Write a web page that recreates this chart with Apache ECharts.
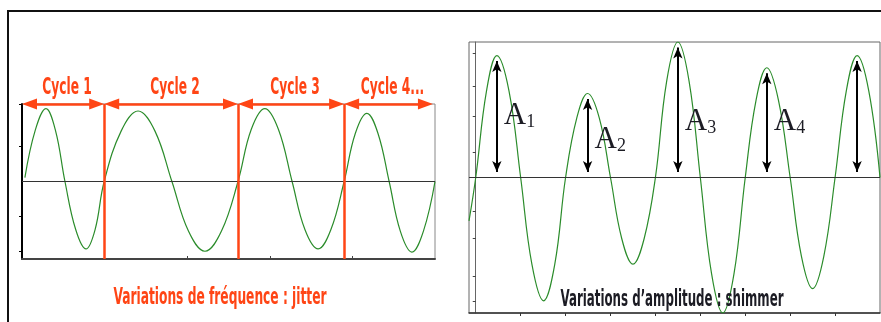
<!DOCTYPE html>
<html>
<head>
<meta charset="utf-8">
<script src="https://cdn.jsdelivr.net/npm/echarts@6/dist/echarts.min.js"></script>
<style>
html, body { margin: 0; padding: 0; background: #fff; }
#chart { width: 881px; height: 322px; }
</style>
</head>
<body>
<div id="chart"></div>
<script>
// jitter : la durée des cycles varie
var jitterT = [0.07, 0.32, 0.58, 0.81, 1.04, 1.30, 1.55, 1.77, 1.99, 2.40, 2.81, 3.22, 3.63, 4.03, 4.43, 4.83,
  5.23, 5.55, 5.88, 6.21, 6.54, 6.85, 7.17, 7.48, 7.80, 8.07, 8.35, 8.62, 8.89, 9.16, 9.44, 9.72, 10];
var jitterV = [0.05, 0.66, 0.94, 0.66, 0, -0.62, -0.87, -0.62, 0, 0.65, 0.91, 0.65, 0, -0.64, -0.90, -0.64,
  0, 0.67, 0.94, 0.67, 0, -0.62, -0.87, -0.62, 0, 0.62, 0.88, 0.62, 0, -0.64, -0.91, -0.64, 0];
var cycleBounds = [0, 1.99, 5.23, 7.80, 9.95];
var cycleLabels = ['Cycle 1', 'Cycle 2', 'Cycle 3', 'Cycle 4...'];
var jitterYTicks = [1, 0.46, -0.45, -0.9];
var jitterXTicks = [4, 6, 8];

// shimmer : l'amplitude varie
var shimmerT = [-0.15, 0, 0.24, 0.47, 0.74, 1, 1.25, 1.51, 1.76, 2, 2.25, 2.49, 2.75, 3, 3.25, 3.5, 3.75,
  4, 4.25, 4.5, 4.75, 5, 5.25, 5.5, 5.75, 6, 6.24, 6.48, 6.74, 7, 7.25, 7.5, 7.75, 8, 8.25, 8.49, 8.75, 9];
var shimmerV = [-0.32, 0, 0.64, 0.90, 0.64, 0, -0.64, -0.91, -0.64, 0, 0.44, 0.62, 0.44, 0, -0.45, -0.64, -0.45,
  0, 0.71, 1.0, 0.71, 0, -0.71, -1.0, -0.71, 0, 0.57, 0.81, 0.57, 0, -0.58, -0.82, -0.58, 0, 0.64, 0.90, 0.64, 0];
var ampLabels = ['1', '2', '3', '4'];
var shimmerYTicks = [0.92, 0.67, 0.45, 0.19, -0.25, -0.45, -0.73, -0.91];
var shimmerXTicks = [1, 2, 3, 4, 5, 6, 7, 8];

var ORANGE = '#ff4515';
var GREEN = '#2b8c2b';
var DARK = '#1c1c24';
var CONDENSED = 'Impact, "DejaVu Sans Condensed", "DejaVu Sans", sans-serif';
var SERIF = '"Liberation Serif", "DejaVu Serif", serif';

function zip(a, b) {
  return a.map(function(x, i) { return [x, b[i]]; });
}

// sommets de la courbe shimmer (maxima locaux)
var peaks = [];
for (var i = 1; i < shimmerV.length - 1; i++) {
  if (shimmerV[i] > shimmerV[i - 1] && shimmerV[i] > shimmerV[i + 1]) peaks.push([shimmerT[i], shimmerV[i]]);
}
// hauteur des étiquettes A1..A4 (fraction de l'amplitude)
var labelRise = [0.5, 0.44, 0.41, 0.5];

// le symbole est centré sur l'extrémité : on raccourcit le trait d'une demi-pointe
var orangeInset = 7.5 / 41.3;   // ~7.5 px en unités de l'axe x gauche
var blackInset = 5.5 / 135.5;   // ~5.5 px en unités de l'axe y droit

var cycleArrows = [];
for (var c = 0; c < cycleLabels.length; c++) {
  cycleArrows.push([
    { coord: [cycleBounds[c] + orangeInset, 1], symbol: 'triangle', symbolSize: [11, 15] },
    { coord: [cycleBounds[c + 1] - orangeInset, 1], symbol: 'triangle', symbolSize: [11, 15] }
  ]);
}
var cycleLines = cycleBounds.slice(1, -1).map(function(b) {
  return [{ coord: [b, -1], symbol: 'none' }, { coord: [b, 1], symbol: 'none' }];
});

var zeroLine = {
  silent: true, symbol: 'none', label: { show: false },
  lineStyle: { color: '#333', width: 1, type: 'solid' },
  data: [{ yAxis: 0 }]
};

var myChart = echarts.init(document.getElementById('chart'));

var option = {
  animation: false,
  grid: [
    { left: 22, top: 104, width: 413, height: 155, show: true, borderColor: '#888', borderWidth: 1 },
    { left: 469, top: 42, width: 411, height: 271, show: true, borderColor: '#666', borderWidth: 1 }
  ],
  xAxis: [{
    gridIndex: 0, type: 'value', min: 0, max: 10,
    axisLine: { onZero: false, lineStyle: { color: '#444', width: 2 } },
    axisTick: { inside: true, length: 3, customValues: jitterXTicks, lineStyle: { color: '#444' } },
    axisLabel: { show: false }, splitLine: { show: false }
  }, {
    gridIndex: 1, type: 'value', min: -0.15, max: 9,
    axisLine: { onZero: false, lineStyle: { color: '#333', width: 1.5 } },
    axisTick: { length: 3, customValues: shimmerXTicks, lineStyle: { color: '#333' } },
    axisLabel: { show: false }, splitLine: { show: false }
  }],
  yAxis: [{
    gridIndex: 0, type: 'value', min: -1, max: 1,
    axisLine: { show: true, lineStyle: { color: '#000', width: 2 } },
    axisTick: { length: 3, customValues: jitterYTicks, lineStyle: { color: '#000' } },
    axisLabel: { show: false }, splitLine: { show: false }
  }, {
    gridIndex: 1, type: 'value', min: -1, max: 1,
    axisLine: { show: true, lineStyle: { color: '#666', width: 1 } },
    axisTick: { length: 3, customValues: shimmerYTicks, lineStyle: { color: '#444' } },
    axisLabel: { show: false }, splitLine: { show: false }
  }],
  series: [{
    type: 'line', xAxisIndex: 0, yAxisIndex: 0,
    data: zip(jitterT, jitterV), smooth: 0.4, showSymbol: false,
    lineStyle: { color: GREEN, width: 1.2 },
    markLine: zeroLine
  }, {
    type: 'line', xAxisIndex: 0, yAxisIndex: 0, data: [],
    markLine: {
      silent: true, symbol: 'none', label: { show: false },
      lineStyle: { color: ORANGE, width: 2.5, type: 'solid' },
      data: cycleLines.concat(cycleArrows)
    }
  }, {
    type: 'line', xAxisIndex: 1, yAxisIndex: 1,
    data: zip(shimmerT, shimmerV), smooth: 0.4, showSymbol: false,
    lineStyle: { color: GREEN, width: 1.2 },
    markLine: zeroLine
  }, {
    type: 'line', xAxisIndex: 1, yAxisIndex: 1, data: [],
    markLine: {
      silent: true, symbol: ['arrow', 'arrow'], symbolSize: [7, 11],
      label: { show: false },
      lineStyle: { color: '#000', width: 2, type: 'solid' },
      data: peaks.map(function(p) {
        return [{ coord: [p[0], blackInset] }, { coord: [p[0], p[1] - blackInset] }];
      })
    },
    markPoint: {
      silent: true, symbol: 'circle', symbolSize: 0, itemStyle: { color: 'transparent' },
      label: {
        show: true, position: 'right', distance: 7,
        formatter: function(p) { return '{a|A}{n|' + p.name + '}'; },
        rich: {
          a: { fontFamily: SERIF, fontSize: 31, color: DARK, lineHeight: 30, verticalAlign: 'bottom' },
          n: { fontFamily: SERIF, fontSize: 18, color: DARK, lineHeight: 26, verticalAlign: 'bottom' }
        }
      },
      data: ampLabels.map(function(n, i) {
        return { name: n, coord: [peaks[i][0], peaks[i][1] * labelRise[i]] };
      })
    }
  }]
};
myChart.setOption(option);

// textes en police étroite (type Impact) : on écrase horizontalement
var ctx = document.createElement('canvas').getContext('2d');
var FS = 23;
ctx.font = 'bold ' + FS + 'px ' + CONDENSED;
var jitterTitle = 'Variations de fréquence : jitter';
var shimmerTitle = 'Variations d\u2019amplitude : shimmer';
var squeeze = 213 / ctx.measureText(jitterTitle).width;

function narrowText(text, x, y, color, width) {
  var s = width ? width / ctx.measureText(text).width : squeeze;
  return {
    type: 'text', x: x, y: y, scaleX: s, z: 100,
    style: {
      text: text, fill: color, fontSize: FS, fontWeight: 'bold', fontFamily: CONDENSED,
      align: 'center', verticalAlign: 'middle'
    }
  };
}

var graphics = [{
  type: 'polyline', z: 100,
  shape: { points: [[8, 322], [8, 11], [881, 11]] },
  style: { stroke: '#111', lineWidth: 2, fill: null }
}];
for (var k = 0; k < cycleLabels.length; k++) {
  var mid = (cycleBounds[k] + cycleBounds[k + 1]) / 2;
  var px = myChart.convertToPixel({ xAxisIndex: 0, yAxisIndex: 0 }, [mid, 1]);
  graphics.push(narrowText(cycleLabels[k], px[0] + 4, px[1] - 16, ORANGE));
}
graphics.push(narrowText(jitterTitle, 220, 298, ORANGE, 213));
graphics.push(narrowText(shimmerTitle, 672, 300, DARK, 223));

myChart.setOption({ graphic: graphics });
</script>
</body>
</html>
